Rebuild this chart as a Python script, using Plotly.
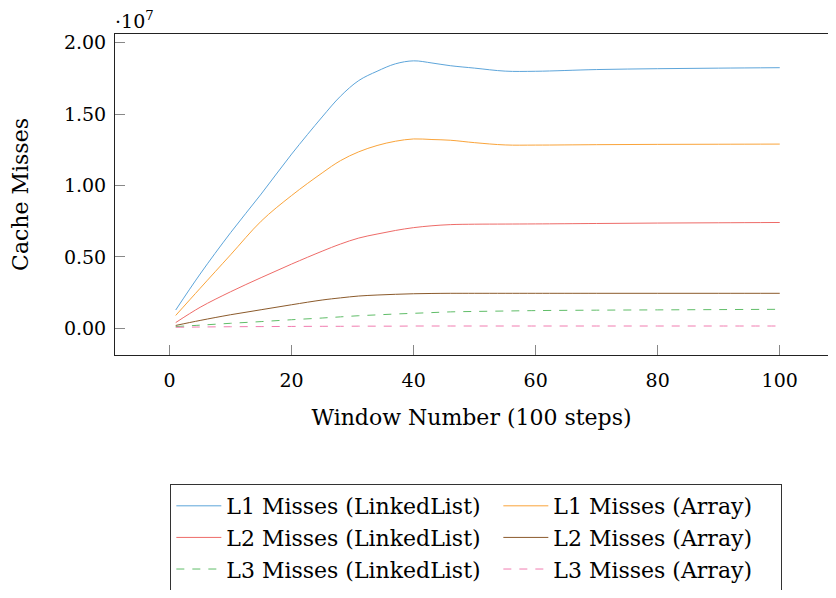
import plotly.graph_objects as go

# Window numbers where values were read
window = [1, 5, 10, 15, 20, 25, 28, 31, 34, 37, 40, 43, 46, 50, 55, 60, 70, 80, 90, 100]

# Cache misses (units of 1e7)
l1_linkedlist = [0.128, 0.38, 0.67, 0.94, 1.22, 1.48, 1.625, 1.735, 1.80, 1.852, 1.873, 1.858, 1.839, 1.822, 1.801, 1.800, 1.812, 1.818, 1.822, 1.825]
l1_array = [0.09, 0.28, 0.515, 0.75, 0.93, 1.088, 1.174, 1.236, 1.28, 1.31, 1.326, 1.322, 1.317, 1.30, 1.284, 1.283, 1.286, 1.288, 1.289, 1.29]
l2_linkedlist = [0.04, 0.147, 0.256, 0.355, 0.45, 0.54, 0.59, 0.632, 0.66, 0.685, 0.705, 0.718, 0.726, 0.729, 0.730, 0.731, 0.734, 0.737, 0.739, 0.741]
l2_array = [0.02, 0.055, 0.095, 0.13, 0.165, 0.198, 0.213, 0.226, 0.233, 0.238, 0.242, 0.244, 0.245, 0.245, 0.245, 0.245, 0.245, 0.245, 0.245, 0.245]
l3_linkedlist = [0.012, 0.022, 0.035, 0.047, 0.060, 0.072, 0.08, 0.088, 0.094, 0.10, 0.105, 0.11, 0.115, 0.118, 0.121, 0.124, 0.127, 0.129, 0.131, 0.133]
l3_array = [0.007, 0.009, 0.011, 0.012, 0.013, 0.014, 0.014, 0.015, 0.015, 0.015, 0.016, 0.016, 0.016, 0.016, 0.016, 0.016, 0.016, 0.016, 0.016, 0.016]

y_ticks = [0.0, 0.5, 1.0, 1.5, 2.0]
x_ticks = [0, 20, 40, 60, 80, 100]

series = [
    ("L1 Misses (LinkedList)", l1_linkedlist, "#5DA5DA", "solid", 267),
    ("L1 Misses (Array)", l1_array, "#FAA43A", "solid", 223),
    ("L2 Misses (LinkedList)", l2_linkedlist, "#EE6B68", "solid", 267),
    ("L2 Misses (Array)", l2_array, "#8B5A2B", "solid", 223),
    ("L3 Misses (LinkedList)", l3_linkedlist, "#60BD68", "8px,8px", 267),
    ("L3 Misses (Array)", l3_array, "#F17CB0", "8px,8px", 223),
]

FONT = "DejaVu Serif"

fig = go.Figure()
for name, vals, color, dash, lw in series:
    fig.add_trace(go.Scatter(
        x=window, y=vals, name=name, mode="lines", legendwidth=lw,
        line=dict(color=color, width=1, dash=dash, shape="spline", smoothing=1.0),
    ))

# the page body adds an 8px offset; the figure is sized so the page does not overflow
fig.update_layout(
    width=820, height=582,
    margin=dict(l=107, r=0, t=26, b=235),
    plot_bgcolor="white", paper_bgcolor="white",
    font=dict(family=FONT, size=19, color="black"),
    showlegend=True,
    legend=dict(
        orientation="h", x=0.0776, xanchor="left",
        yref="container", y=0.1821, yanchor="top",
        bgcolor="white", bordercolor="#333333", borderwidth=1,
        font=dict(family=FONT, size=22, color="black"),
        itemwidth=45, traceorder="normal",
    ),
    xaxis=dict(
        range=[-8.95, 107.91], tickvals=x_ticks, ticks="inside", ticklen=10,
        tickcolor="#888888", tickwidth=1, showgrid=False, zeroline=False,
        showline=True, linecolor="#222222", linewidth=1, mirror=True,
        automargin=False, ticklabelstandoff=8,
        title=dict(text="Window Number (100 steps)", standoff=19,
                   font=dict(family=FONT, size=22, color="black")),
        tickfont=dict(family=FONT, size=19, color="black"),
    ),
    yaxis=dict(
        range=[-0.187, 2.061], tickvals=y_ticks, tickformat=".2f", ticks="inside",
        ticklen=10, tickcolor="#888888", tickwidth=1, showgrid=False, zeroline=False,
        showline=True, linecolor="#222222", linewidth=1, mirror=False,
        automargin=False, ticklabelstandoff=4,
        title=dict(text="Cache Misses", standoff=30,
                   font=dict(family=FONT, size=22, color="black")),
        tickfont=dict(family=FONT, size=19, color="black"),
    ),
)

fig.add_annotation(
    x=0, y=1, xref="paper", yref="paper", xanchor="left", yanchor="bottom",
    text="·10<sup>7</sup>", showarrow=False, font=dict(family=FONT, size=19),
    xshift=-2, yshift=0,
)

fig.write_html("out.html")
